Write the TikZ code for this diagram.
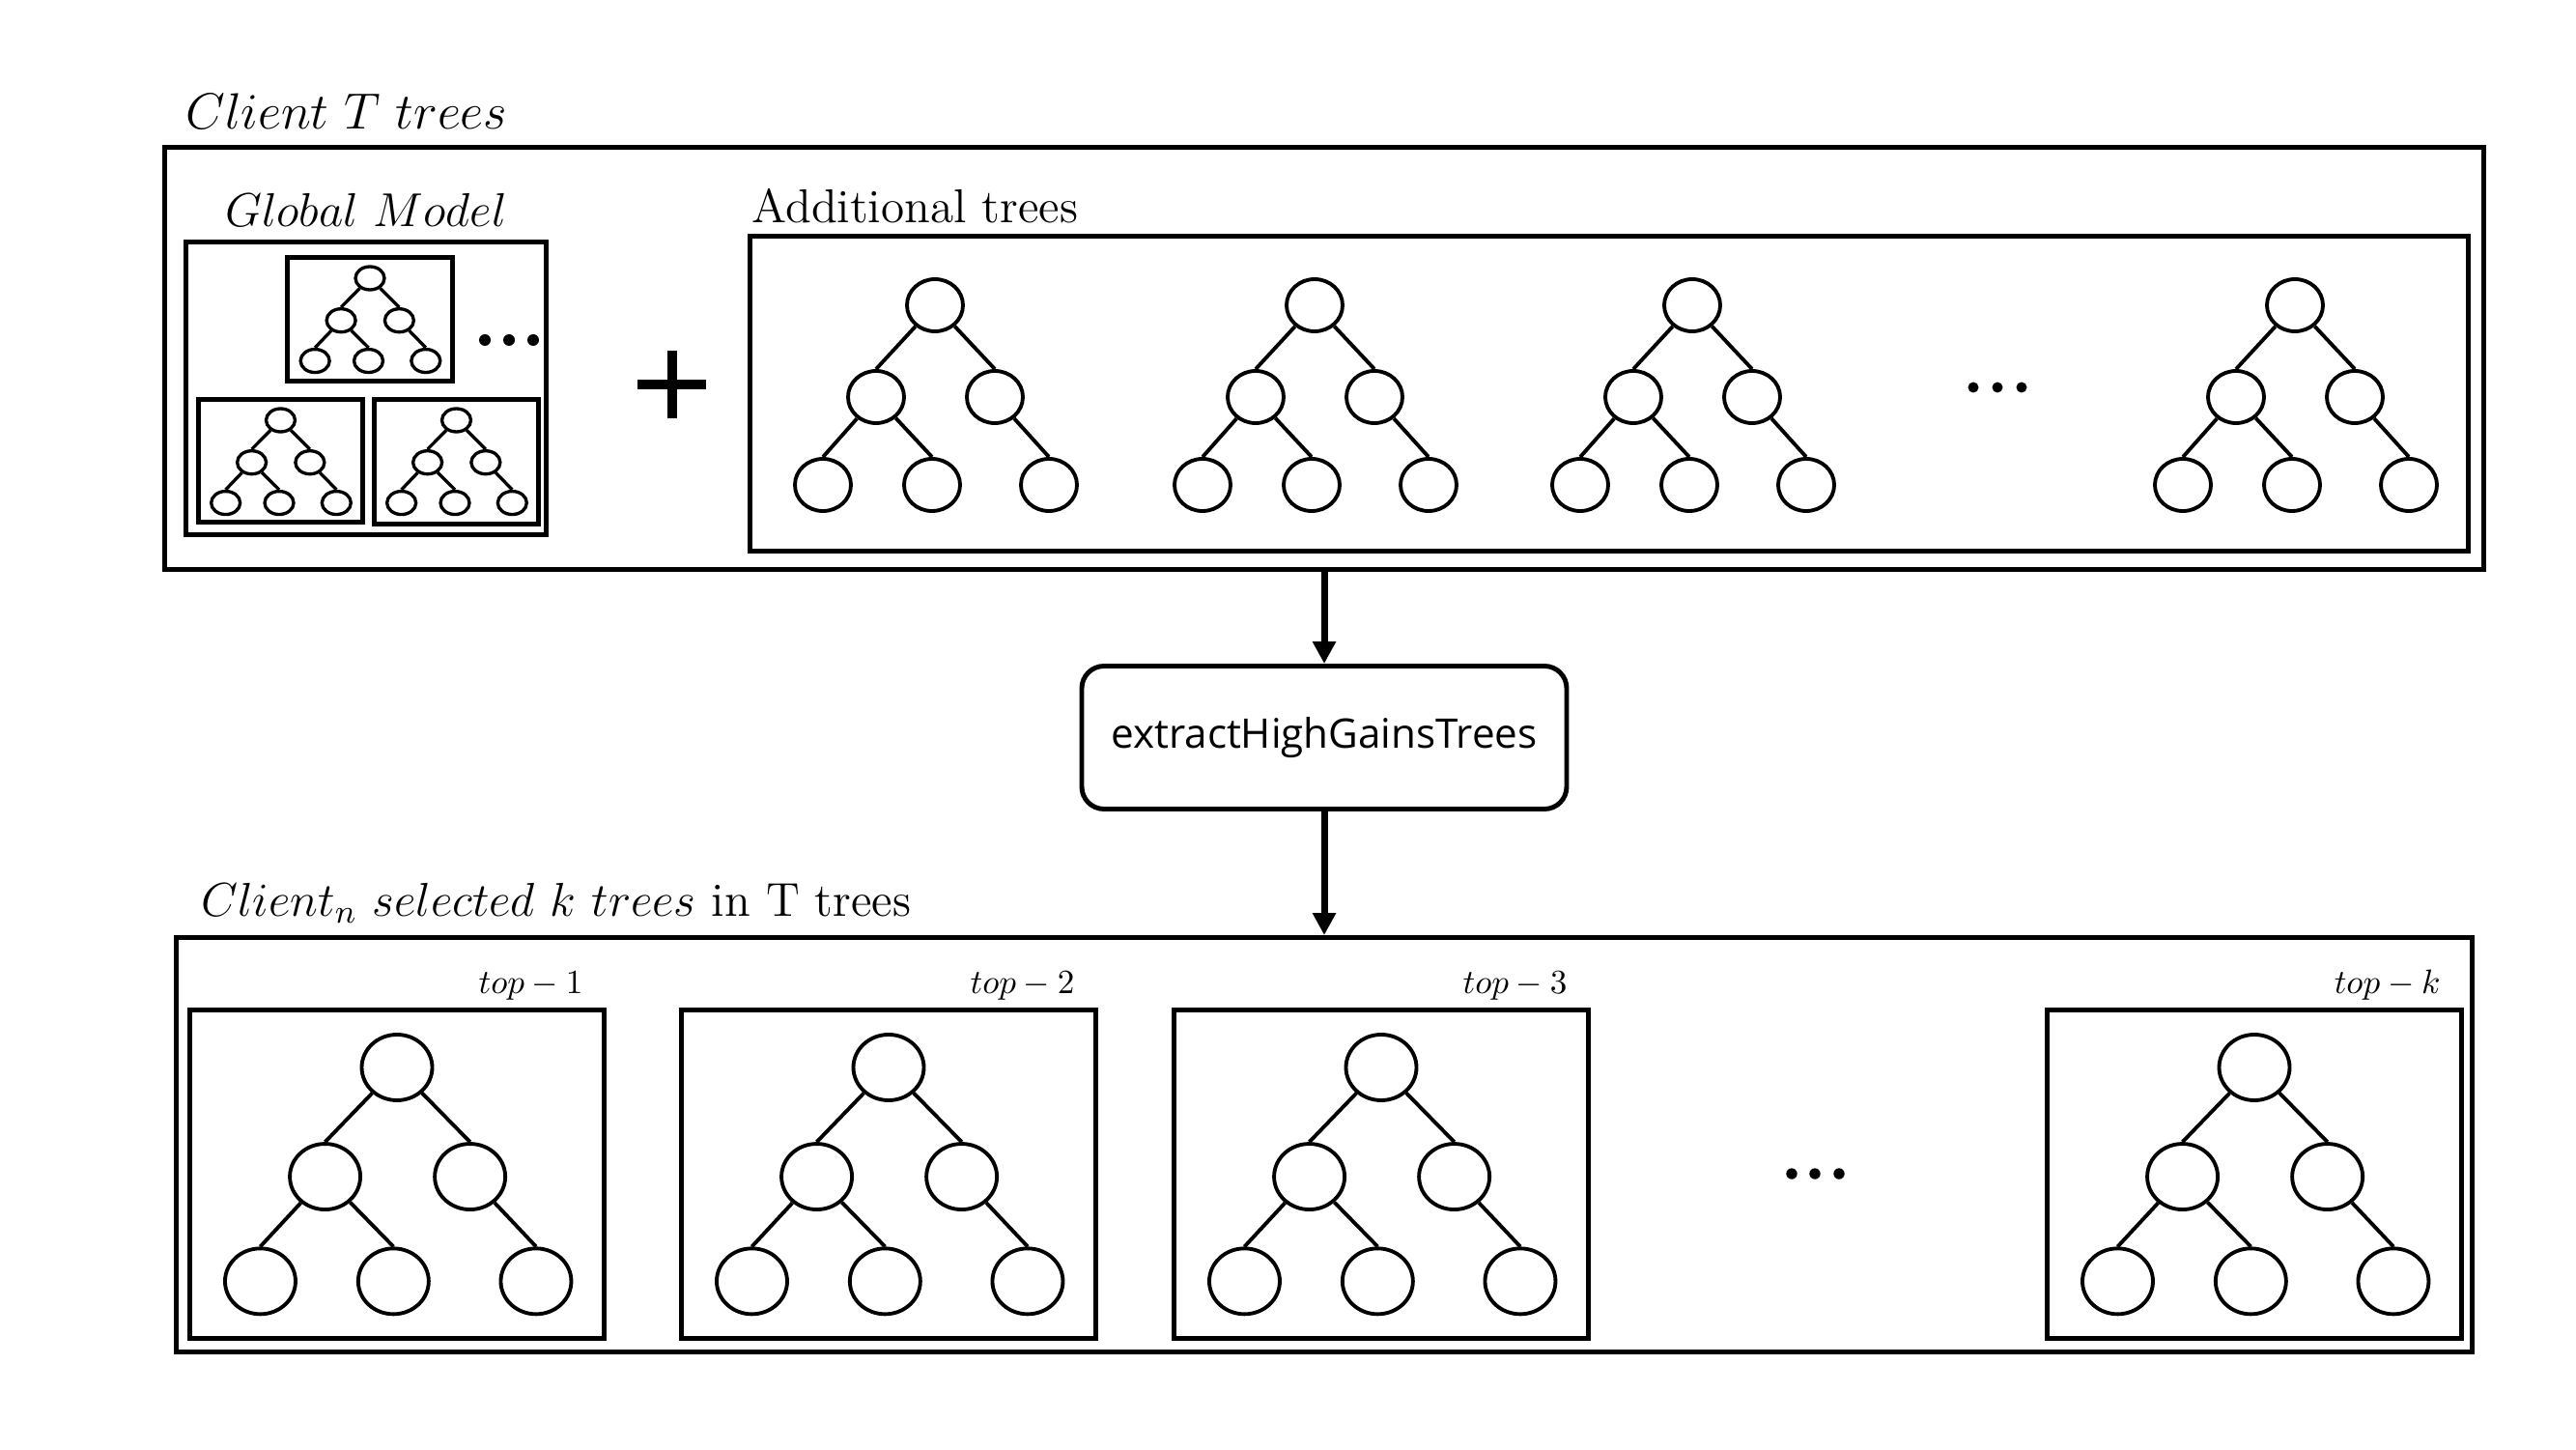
\RequirePackage{fix-cm}
\documentclass[tikz,border=0pt]{standalone}
\usepackage{fontspec}
\newfontfamily\guifont{Open Sans}
\usetikzlibrary{positioning,shapes.geometric,arrows.meta}

\newcommand{\bintree}[3]{%
  \begin{scope}[shift={#2},#3]
    \node (#1r) [treenode] at (0,0) {};
    \node (#1a) [treenode] at (-0.61,-0.95) {};
    \node (#1b) [treenode] at (0.62,-0.95) {};
    \node (#1c) [treenode] at (-1.16,-1.86) {};
    \node (#1d) [treenode] at (-0.03,-1.86) {};
    \node (#1e) [treenode] at (1.18,-1.86) {};
    \draw (#1r) -- (#1a.north);
    \draw (#1r) -- (#1b.north);
    \draw (#1a) -- (#1c.north);
    \draw (#1a) -- (#1d.north);
    \draw (#1b) -- (#1e.north);
  \end{scope}}

\begin{document}
\begin{tikzpicture}[
    panel/.style={draw,line width=1.4pt,inner sep=0pt},
    treenode/.style={ellipse,draw,inner sep=0pt},
    minitree/.style={xscale=0.49,yscale=0.46,line width=0.95pt,
      treenode/.append style={minimum width=3.0mm,minimum height=2.4mm}},
    addtree/.style={line width=1.1pt,
      treenode/.append style={minimum width=5.8mm,minimum height=5.4mm}},
    toptree/.style={xscale=1.22,yscale=1.19,line width=1.1pt,
      treenode/.append style={minimum width=7.3mm,minimum height=6.8mm}},
    flow/.style={line width=2pt,-{Triangle[width=2.3mm,length=2.3mm]}},
    toplabel/.style={anchor=base east,xshift=-1.2mm,yshift=1.5mm,font=\fontsize{10}{12}\selectfont},
    font=\fontsize{14}{17}\selectfont
    ]

    \useasboundingbox (0,0) rectangle (26.67,15);

    % client T trees
    \node (client) [panel,minimum width=24.01cm,minimum height=4.37cm] at (13.71,11.29) {};
    \node (clienttitle) [anchor=base west,xshift=1.2mm,yshift=1.7mm,font=\fontsize{15}{18}\selectfont] at (client.north west) {$Client\ T\ trees$};

    \node (global) [panel,minimum width=3.73cm,minimum height=3.03cm] at (3.79,10.98) {};
    \node (globaltitle) [anchor=base,yshift=1.4mm] at (global.north) {$Global\ Model$};
    \node (g1) [panel,line width=1.3pt,minimum width=1.71cm,minimum height=1.28cm] at (3.83,11.695) {};
    \node (g2) [panel,line width=1.3pt,minimum width=1.70cm,minimum height=1.27cm] at (2.905,10.23) {};
    \node (g3) [panel,line width=1.3pt,minimum width=1.70cm,minimum height=1.29cm] at (4.725,10.22) {};
    \bintree{ga}{(3.83,12.12)}{minitree}
    \bintree{gb}{(2.905,10.65)}{minitree}
    \bintree{gc}{(4.725,10.65)}{minitree}
    \foreach \x in {5.02,5.27,5.52}
      \fill (\x,11.48) circle (0.06);

    \draw[line width=1mm] (6.60,11.02) -- (7.31,11.02) (6.955,10.67) -- (6.955,11.37);

    \node (additional) [panel,minimum width=17.79cm,minimum height=3.26cm] at (16.66,10.925) {};
    \node (addtitle) [anchor=base west,xshift=-0.8mm,yshift=1.2mm] at (additional.north west) {Additional trees};
    \bintree{ta}{(9.68,11.84)}{addtree}
    \bintree{tb}{(13.61,11.84)}{addtree}
    \bintree{tc}{(17.52,11.84)}{addtree}
    \bintree{td}{(23.76,11.84)}{addtree}
    \foreach \x in {20.43,20.68,20.93}
      \fill (\x,10.99) circle (0.055);

    % selection step
    \node (extract) [panel,rounded corners=2.3mm,minimum width=5.02cm,minimum height=1.48cm,font=\guifont\fontsize{12}{14}\selectfont] at (13.71,7.365) {extractHighGainsTrees};

    % selected k trees
    \node (selected) [panel,minimum width=23.77cm,minimum height=4.29cm] at (13.71,3.15) {};
    \node (seltitle) [anchor=base west,xshift=1.6mm,yshift=2mm] at (selected.north west) {$Client_n\ selected\ k\ trees$ in T trees};

    \foreach \name/\x/\rank in {top1/4.11/1,top2/9.20/2,top3/14.30/3,topk/23.34/k}{
      \node (\name) [panel,minimum width=4.29cm,minimum height=3.40cm] at (\x,2.845) {};
      \node (\name lbl) [toplabel] at (\name.north east) {$top-\rank$};
      \bintree{\name t}{(\x,3.95)}{toptree}
    }
    \foreach \x in {18.55,18.79,19.04}
      \fill (\x,2.85) circle (0.057);

    \draw[flow] (client) -- (extract);
    \draw[flow] (extract) -- (selected);

  \end{tikzpicture}
\end{document}
